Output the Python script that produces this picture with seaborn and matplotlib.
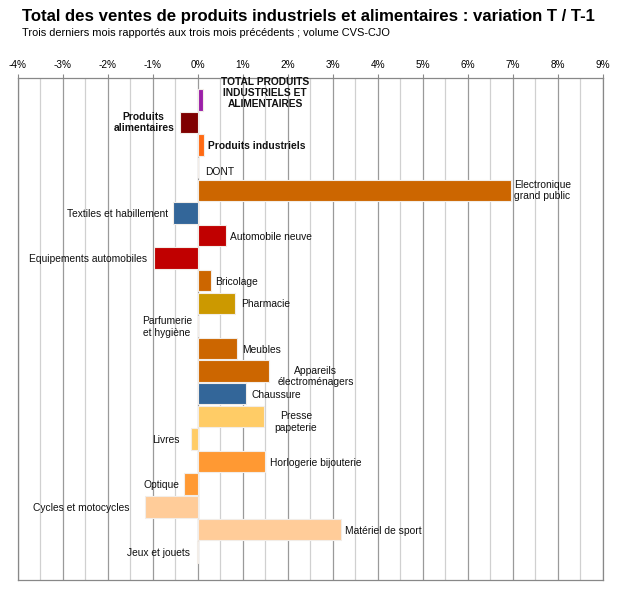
import matplotlib
matplotlib.use("Agg")
import matplotlib.pyplot as plt
import seaborn as sns
import pandas as pd
from matplotlib.ticker import MultipleLocator, FuncFormatter

# categories (top to bottom) and their variation T / T-1 in %
categories = [
    "TOTAL PRODUITS\nINDUSTRIELS ET\nALIMENTAIRES",
    "Produits\nalimentaires",
    "Produits industriels",
    "DONT",
    "Electronique\ngrand public",
    "Textiles et habillement",
    "Automobile neuve",
    "Equipements automobiles",
    "Bricolage",
    "Pharmacie",
    "Parfumerie\net hygiène",
    "Meubles",
    "Appareils\nélectroménagers",
    "Chaussure",
    "Presse\npapeterie",
    "Livres",
    "Horlogerie bijouterie",
    "Optique",
    "Cycles et motocycles",
    "Matériel de sport",
    "Jeux et jouets",
]
values = [0.12, -0.40, 0.14, 0.0, 6.96, -0.56, 0.62, -0.98, 0.29, 0.82, 0.0,
          0.87, 1.58, 1.07, 1.47, -0.16, 1.49, -0.31, -1.18, 3.18, -0.02]
colors = ["#9B1FA8", "#7F0000", "#FF6A13", "#FFFFFF", "#CC6600", "#336699",
          "#C00000", "#C00000", "#CC6600", "#CC9900", "#FFCC66", "#CC6600",
          "#CC6600", "#336699", "#FFCC66", "#FFCC66", "#FF9933", "#FF9933",
          "#FFCC99", "#FFCC99", "#FFCC99"]
bold_rows = [0, 1, 2]

# where each label sits: x in %, horizontal alignment, vertical shift in rows
label_x = [1.49, -0.53, 0.22, 0.16, 7.02, -0.67, 0.71, -1.13, 0.38, 0.96, -0.13,
           0.98, 2.62, 1.18, 2.18, -0.40, 1.60, -0.42, -1.53, 3.27, -0.18]
label_ha = ["center", "right", "left", "left", "left", "right", "left", "right",
            "left", "left", "right", "left", "center", "left", "center", "right",
            "left", "right", "right", "left", "right"]
label_dy = [-0.3, 0, 0.05, 0.2, 0, 0.05, 0.05, 0.05, 0.05, 0.05, 0.05,
            0.05, 0.22, 0.05, 0.25, 0.05, 0.05, 0.05, 0.05, 0.05, 0.05]

df = pd.DataFrame({"cat": categories, "val": values})

fig = plt.figure(figsize=(6.27, 5.93), dpi=100)
ax = fig.add_axes([0.0287, 0.0219, 0.933, 0.8466])

sns.barplot(data=df, x="val", y="cat", hue="cat", palette=colors, legend=False,
            orient="h", width=0.95, edgecolor="#F2EDE8", linewidth=0.8,
            saturation=1, ax=ax, zorder=3)

ax.set_xlim(-4, 9)
ax.set_ylim(21.24, -0.97)
ax.xaxis.set_major_locator(MultipleLocator(1))
ax.xaxis.set_minor_locator(MultipleLocator(0.5))
ax.xaxis.set_major_formatter(FuncFormatter(lambda v, p: f"{v:.0f}%"))
ax.xaxis.tick_top()
ax.tick_params(axis="x", which="major", labelsize=7.2, length=3, color="#888888", pad=3)
ax.tick_params(axis="x", which="minor", length=0)
ax.set_yticks([])
ax.set_xlabel("")
ax.set_ylabel("")
ax.grid(axis="x", which="major", color="#9A9A9A", linewidth=0.9, zorder=0)
ax.grid(axis="x", which="minor", color="#D0D0D0", linewidth=0.9, zorder=0)
ax.set_axisbelow(True)
for s in ax.spines.values():
    s.set_color("#888888")
    s.set_linewidth(0.9)
for t in ax.get_xticklabels():
    t.set_family("Liberation Sans")

for i, name in enumerate(categories):
    ax.text(label_x[i], i + label_dy[i], name, ha=label_ha[i], va="center",
            multialignment="center", fontsize=7.4,
            fontweight="bold" if i in bold_rows else "normal",
            family="Liberation Sans", color="#111111", linespacing=1.15, zorder=4)

fig.text(0.035, 0.972, "Total des ventes de produits industriels et alimentaires : variation T / T-1",
         fontsize=12.1, fontweight="bold", family="Liberation Sans", va="center")
fig.text(0.035, 0.945, "Trois derniers mois rapportés aux trois mois précédents ; volume CVS-CJO",
         fontsize=7.9, family="Liberation Sans", va="center")

fig.savefig("out.png", dpi=100)
